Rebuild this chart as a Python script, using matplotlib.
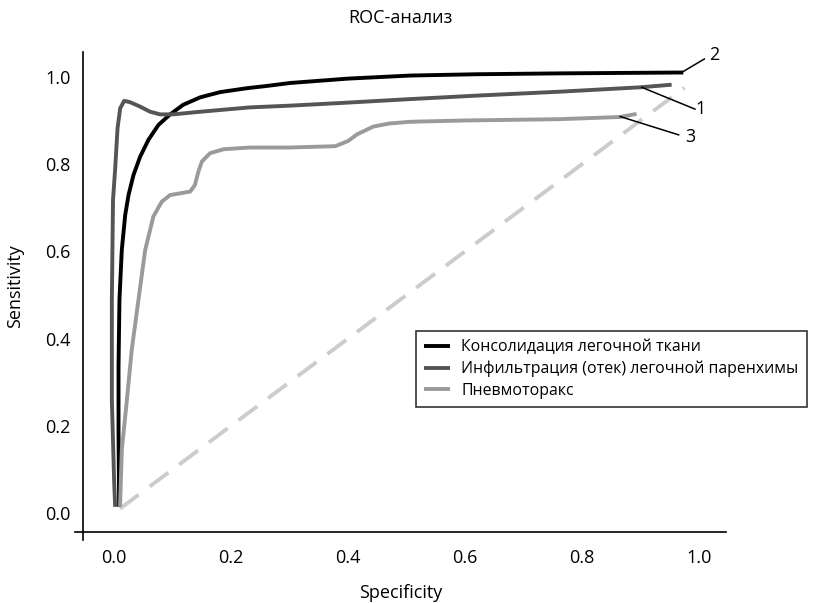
import matplotlib
matplotlib.use("Agg")
import matplotlib.pyplot as plt

plt.rcParams['font.family'] = ['Open Sans', 'DejaVu Sans']

# ---- data ----
title = "ROC-анализ"
x_label = "Specificity"
y_label = "Sensitivity"
tick_values = [0.0, 0.2, 0.4, 0.6, 0.8, 1.0]
tick_labels = ["0.0", "0.2", "0.4", "0.6", "0.8", "1.0"]

series_names = ["Консолидация легочной ткани",
                "Инфильтрация (отек) легочной паренхимы",
                "Пневмоторакс"]
series_tags = ["2", "1", "3"]

cons_x = [0.0085, 0.0074, 0.0074, 0.009, 0.013, 0.0188, 0.0245, 0.033, 0.0444,
          0.0587, 0.0758, 0.0957, 0.118, 0.147, 0.181, 0.227, 0.260, 0.301,
          0.400, 0.506, 0.620, 0.762, 0.973]
cons_y = [0.014, 0.183, 0.336, 0.489, 0.603, 0.683, 0.729, 0.775, 0.817,
          0.856, 0.890, 0.914, 0.936, 0.953, 0.965, 0.974, 0.979, 0.986,
          0.996, 1.003, 1.006, 1.008, 1.010]

infl_x = [0.0017, 0.0, -0.004, -0.004, -0.002, 0.0017, 0.0057, 0.0103, 0.0171,
          0.027, 0.044, 0.0615, 0.0786, 0.101, 0.147, 0.232, 0.301, 0.400,
          0.506, 0.620, 0.762, 0.899, 0.953]
infl_y = [0.014, 0.069, 0.259, 0.489, 0.718, 0.790, 0.882, 0.928, 0.945,
          0.942, 0.932, 0.920, 0.914, 0.914, 0.920, 0.930, 0.934, 0.941,
          0.949, 0.957, 0.966, 0.976, 0.982]

pneu_x = [0.010, 0.013, 0.0217, 0.030, 0.0415, 0.053, 0.067, 0.0815, 0.0957,
          0.113, 0.130, 0.138, 0.144, 0.150, 0.164, 0.187, 0.232, 0.300, 0.378,
          0.400, 0.415, 0.443, 0.470, 0.506, 0.600, 0.762, 0.865, 0.893]
pneu_y = [0.014, 0.144, 0.259, 0.374, 0.489, 0.603, 0.680, 0.714, 0.729,
          0.733, 0.737, 0.752, 0.783, 0.806, 0.825, 0.834, 0.838, 0.838, 0.841,
          0.853, 0.868, 0.886, 0.893, 0.897, 0.900, 0.903, 0.908, 0.915]

diag_x = [0.010, 0.975]
diag_y = [0.010, 0.975]

# annotation leader lines: (curve point) -> (label point)
tag_line_start = [(0.970, 1.010), (0.902, 0.976), (0.865, 0.909)]
tag_line_end = [(1.009, 1.041), (0.993, 0.926), (0.965, 0.867)]
tag_text_pos = [(1.026, 1.050), (1.003, 0.927), (0.985, 0.863)]

colors = ["#000000", "#555555", "#9a9a9a"]

# ---- figure ----
fig = plt.figure(figsize=(8.14, 6.03), dpi=100)
ax = fig.add_axes([75 / 814, (603 - 540) / 603, 651 / 814, 488 / 603])

ax.plot(diag_x, diag_y, color="#cccccc", lw=2.8, dashes=(6, 3.5), zorder=1)
for xs, ys, c, name in zip([cons_x, infl_x, pneu_x], [cons_y, infl_y, pneu_y],
                           colors, series_names):
    ax.plot(xs, ys, color=c, lw=2.8, label=name, solid_capstyle='butt',
            solid_joinstyle='round', zorder=2)

for (x0, y0), (x1, y1), (tx, ty), tag in zip(tag_line_start, tag_line_end,
                                             tag_text_pos, series_tags):
    ax.plot([x0, x1], [y0, y1], color="black", lw=1.1, clip_on=False, zorder=3)
    ax.text(tx, ty, tag, ha="center", va="center", fontsize=13)

ax.set_xlim(-0.067, 1.046)
ax.set_ylim(-0.062, 1.057)
ax.spines['top'].set_visible(False)
ax.spines['right'].set_visible(False)
ax.spines['left'].set_position(('data', -0.053))
ax.spines['bottom'].set_position(('data', -0.044))
for s in ('left', 'bottom'):
    ax.spines[s].set_linewidth(1.2)

ax.set_xticks(tick_values)
ax.set_xticklabels(tick_labels)
ax.set_yticks(tick_values)
ax.set_yticklabels(tick_labels)
ax.tick_params(axis='both', length=0, labelsize=13)
ax.tick_params(axis='x', pad=12)
ax.tick_params(axis='y', pad=9)

ax.set_title(title, fontsize=13, pad=21)
ax.set_xlabel(x_label, fontsize=13)
ax.set_ylabel(y_label, fontsize=13)
ax.xaxis.set_label_coords(0.5, -0.09)
ax.yaxis.set_label_coords(-0.078, 0.52)

leg = ax.legend(loc="upper left", bbox_to_anchor=(416 / 814, (603 - 331) / 603),
                bbox_transform=fig.transFigure, fontsize=11.4, frameon=True,
                fancybox=False, edgecolor="black", handlelength=1.6,
                handletextpad=0.75, labelspacing=0.35, borderpad=0.52,
                borderaxespad=0)
leg.get_frame().set_linewidth(1.2)

fig.savefig("out.png", dpi=100)
